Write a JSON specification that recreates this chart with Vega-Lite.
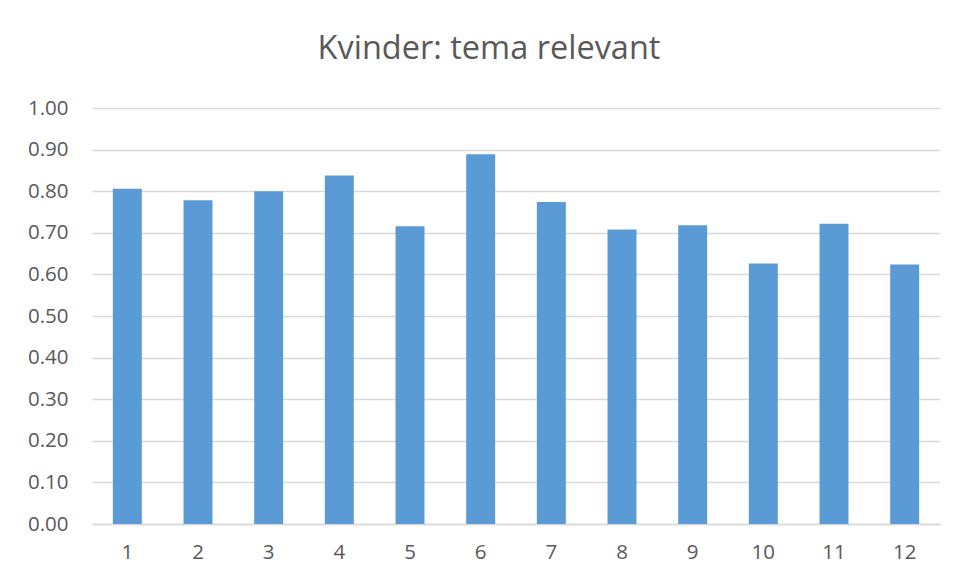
{
  "$schema": "https://vega.github.io/schema/vega-lite/v6.json",
  "autosize": "none",
  "width": 848,
  "height": 416,
  "padding": {"left": 92, "top": 108, "right": 17, "bottom": 57},
  "background": "white",
  "title": {
    "text": "Kvinder: tema relevant",
    "font": "Open Sans",
    "fontSize": 32.5,
    "fontWeight": "normal",
    "color": "#595959",
    "anchor": "middle",
    "dx": -27,
    "offset": 33
  },
  "data": {
    "values": [
      {"k": "1", "v": 0.806},
      {"k": "2", "v": 0.778},
      {"k": "3", "v": 0.800},
      {"k": "4", "v": 0.838},
      {"k": "5", "v": 0.716},
      {"k": "6", "v": 0.889},
      {"k": "7", "v": 0.774},
      {"k": "8", "v": 0.708},
      {"k": "9", "v": 0.718},
      {"k": "10", "v": 0.626},
      {"k": "11", "v": 0.722},
      {"k": "12", "v": 0.624}
    ]
  },
  "mark": {"type": "bar", "color": "#5B9BD5"},
  "encoding": {
    "x": {
      "field": "k",
      "type": "ordinal",
      "sort": null,
      "scale": {"paddingInner": 0.59, "paddingOuter": 0.295},
      "axis": {
        "title": null,
        "labelAngle": 0,
        "ticks": false,
        "domain": true,
        "domainColor": "#D9D9D9",
        "domainWidth": 1.5,
        "labelFont": "Open Sans",
        "labelFontSize": 20.5,
        "labelColor": "#595959",
        "labelPadding": 18
      }
    },
    "y": {
      "field": "v",
      "type": "quantitative",
      "scale": {"domain": [0, 1], "nice": false},
      "axis": {
        "title": null,
        "values": [0, 0.1, 0.2, 0.3, 0.4, 0.5, 0.6, 0.7, 0.8, 0.9, 1.0],
        "format": ".2f",
        "ticks": false,
        "domain": false,
        "grid": true,
        "gridColor": "#D9D9D9",
        "gridWidth": 1.5,
        "labelFont": "Open Sans",
        "labelFontSize": 20.5,
        "labelColor": "#595959",
        "labelPadding": 24
      }
    }
  },
  "config": {"view": {"stroke": null}}
}
